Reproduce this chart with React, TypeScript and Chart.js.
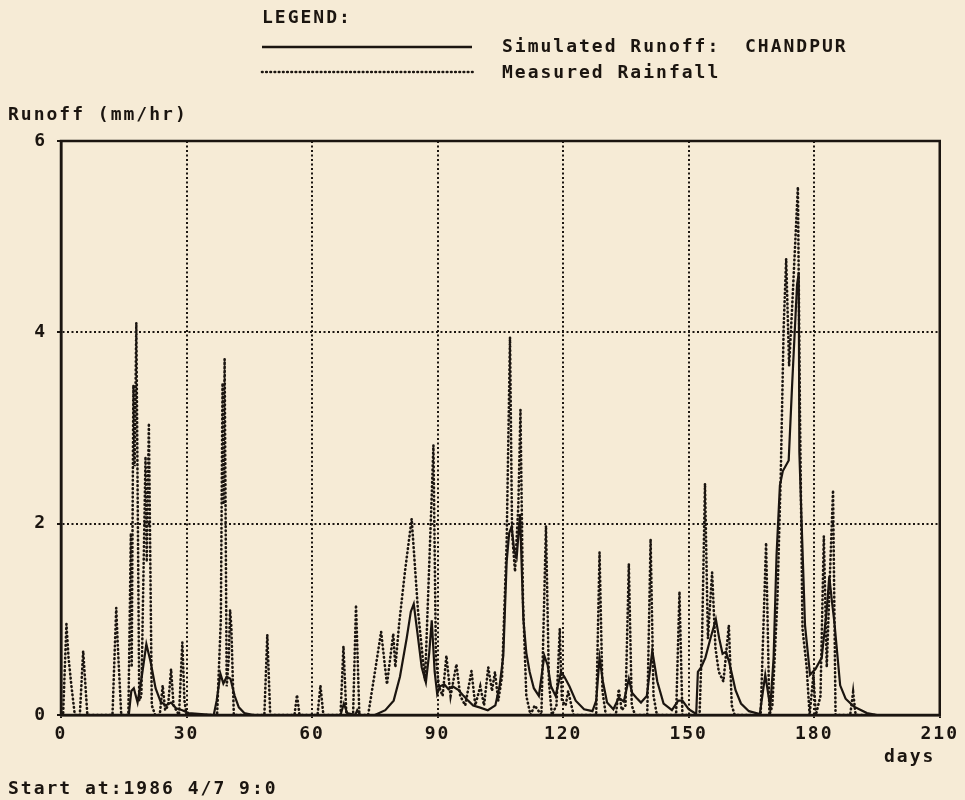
import { useEffect, useRef } from 'react';
import { Chart, registerables } from 'chart.js';

Chart.register(...registerables);

const PAPER = '#f6ebd6';
const INK = '#1b1510';
const FONT_FAMILY = '"DejaVu Sans Mono", monospace';

const xTickStep = 30;
const xMax = 210;
const yTickStep = 2;
const yMax = 6;

const legendTitle = 'LEGEND:';
const runoffLabel = 'Simulated Runoff:';
const stationLabel = 'CHANDPUR';
const rainLabel = 'Measured Rainfall';
const yAxisTitle = 'Runoff (mm/hr)';
const xAxisTitle = 'days';
const startLabel = 'Start at:1986 4/7 9:0';

// Measured rainfall: [day, value]
const rainfall: [number, number][] = [
  [0, 0], [0.5, 0], [1.3, 0.95], [1.8, 0.6], [2.5, 0.3], [3.3, 0],
  [4.5, 0], [5.3, 0.67], [5.7, 0.4], [6.3, 0],
  [12.3, 0], [13.2, 1.12], [13.6, 0.7], [14.4, 0],
  [16.1, 0], [16.7, 1.9], [16.9, 0.5], [17.3, 3.45], [17.6, 2.6], [18.0, 4.1], [18.7, 0.15], [19.2, 0.2],
  [20.2, 2.7], [20.5, 1.6], [21.0, 3.05], [21.7, 0.1], [22.5, 0],
  [23.6, 0], [24.3, 0.31], [24.9, 0.05], [25.6, 0.1], [26.3, 0.48], [26.9, 0.1], [28.2, 0], [29.0, 0.76], [29.5, 0.15], [30, 0],
  [37.3, 0], [38.2, 1.0], [38.6, 3.47], [38.85, 2.2], [39.1, 3.72], [39.6, 0.3], [40.1, 0.6], [40.4, 1.1], [40.7, 0.93], [41.3, 0],
  [48.6, 0], [49.3, 0.84], [50.0, 0],
  [55.8, 0], [56.4, 0.21], [57, 0],
  [61.3, 0], [62, 0.31], [62.7, 0],
  [66.8, 0], [67.5, 0.72], [68.2, 0],
  [69.8, 0], [70.5, 1.15], [71.3, 0],
  [73.4, 0], [75.2, 0.5], [76.5, 0.87], [77.9, 0.32], [79.4, 0.85], [79.9, 0.5], [80.8, 0.95], [82.2, 1.5],
  [83.8, 2.05], [85.3, 1.1], [87.0, 0.36], [88.6, 2.3], [89.0, 2.82], [89.6, 0.6], [90.3, 0.3], [91.2, 0.2],
  [92.1, 0.62], [93.1, 0.2], [94.5, 0.53], [95.4, 0.2], [96.6, 0.1], [98.1, 0.46], [99.0, 0.1], [100.2, 0.3],
  [101.1, 0.1], [102.1, 0.5], [103.0, 0.25], [103.7, 0.45], [104.5, 0.15], [105.4, 0.4], [106.5, 1.8],
  [107.3, 3.95], [107.8, 1.9], [108.5, 1.5], [109.3, 2.2], [109.8, 3.19], [110.4, 1.2], [111.2, 0.2], [112.2, 0],
  [113.2, 0.1], [114.8, 0], [115.9, 1.98], [116.6, 0.35], [117.3, 0], [118.4, 0.1], [119.2, 0.9], [119.7, 0.15],
  [120.6, 0.1], [121.2, 0.25], [122.5, 0],
  [127.9, 0], [128.7, 1.7], [129.4, 0.25], [130.2, 0],
  [132.6, 0], [133.3, 0.27], [134.0, 0.05], [134.9, 0.1], [135.7, 1.58], [136.4, 0.1], [137.2, 0],
  [140.1, 0], [140.9, 1.84], [141.6, 0.2], [142.4, 0],
  [147.0, 0], [147.8, 1.29], [148.5, 0],
  [152.6, 0], [153.2, 0.8], [153.9, 2.42], [154.6, 0.8], [155.6, 1.49], [156.4, 0.7], [157.2, 0.45],
  [158.3, 0.35], [159.6, 0.94], [160.3, 0.1], [161, 0],
  [167.2, 0], [168.5, 1.8], [169.3, 0],
  [170.0, 0.1], [171.2, 1.2], [172.0, 2.5], [172.7, 4.05], [173.3, 4.77], [174.0, 3.65], [174.7, 4.24],
  [175.5, 4.97], [176.1, 5.52], [176.6, 3.14], [177.2, 0.9], [178.2, 0.5], [178.9, 0], [179.8, 0.42], [180.4, 0],
  [181.5, 0.2], [182.3, 1.87], [183.0, 0.5], [183.7, 1.4], [184.5, 2.35], [185.1, 0],
  [188.6, 0], [189.3, 0.24], [189.9, 0], [195, 0],
];

// Simulated runoff: [day, value]
const runoff: [number, number][] = [
  [0, 0], [16.2, 0], [16.8, 0.25], [17.4, 0.28], [18.3, 0.13], [19.3, 0.4], [20.4, 0.74], [21.4, 0.56],
  [22.6, 0.28], [23.8, 0.14], [25, 0.1], [26.3, 0.13], [27.5, 0.07], [29, 0.05], [30.5, 0.02], [36.5, 0],
  [37.2, 0.15], [38.1, 0.43], [38.8, 0.33], [39.6, 0.4], [40.5, 0.38], [41.5, 0.2], [42.5, 0.08], [43.8, 0.02], [46, 0],
  [66.8, 0], [67.6, 0.12], [68.4, 0.02], [70.3, 0], [70.8, 0.05], [71.5, 0],
  [75, 0], [77.5, 0.05], [79.5, 0.15], [81, 0.4], [82.6, 0.8], [83.6, 1.08], [84.3, 1.16], [85.2, 0.85],
  [86.2, 0.5], [87.2, 0.34], [88.0, 0.65], [88.6, 0.99], [89.3, 0.45], [89.9, 0.22], [90.6, 0.3], [91.6, 0.32],
  [92.6, 0.27], [93.6, 0.3], [95, 0.26], [96.2, 0.2], [97.3, 0.15], [98.5, 0.1], [100, 0.08], [102, 0.05],
  [103.8, 0.1], [104.8, 0.3], [105.7, 0.62], [106.5, 1.6], [107.1, 1.9], [107.7, 1.97], [108.3, 1.72],
  [108.9, 1.65], [109.7, 2.1], [110.5, 1.0], [111.2, 0.65], [112, 0.45], [113, 0.28], [114.2, 0.2],
  [115.5, 0.62], [116.3, 0.52], [117.1, 0.3], [118.2, 0.2], [119.5, 0.45], [120.3, 0.4], [121.5, 0.3],
  [123, 0.15], [125, 0.06], [127, 0.04], [127.9, 0.15], [128.7, 0.6], [129.5, 0.35], [130.5, 0.13],
  [132, 0.06], [133.3, 0.18], [134.5, 0.14], [135.7, 0.38], [136.5, 0.23], [137.5, 0.18], [138.6, 0.13],
  [140, 0.2], [141.3, 0.67], [142.5, 0.35], [144, 0.12], [146, 0.05], [147.5, 0.15], [148.5, 0.15],
  [150, 0.06], [151.8, 0.01], [152.2, 0.45], [153, 0.5], [154, 0.6], [155.2, 0.8], [156.5, 1.0],
  [157.3, 0.8], [158.1, 0.64], [158.9, 0.66], [159.7, 0.55], [161.2, 0.26], [162.5, 0.12], [164.4, 0.04],
  [167, 0.01], [168.3, 0.42], [169.5, 0.08], [170.3, 0.6], [171, 1.67], [171.8, 2.4], [172.5, 2.55],
  [173.9, 2.66], [174.7, 3.43], [175.9, 4.5], [176.3, 4.62], [176.45, 2.75], [177, 2.0], [177.8, 0.94],
  [179, 0.42], [180.3, 0.48], [181.8, 0.6], [183, 1.1], [183.6, 1.45], [184.2, 1.2], [184.8, 0.98],
  [186.2, 0.31], [187.5, 0.17], [189.4, 0.09], [192.6, 0.02], [195, 0],
];

const FONT = `bold 18px ${FONT_FAMILY}`;
const RAIN_DASH = [0.6, 3.6];

const spacingPlugin = {
  id: 'spacing',
  beforeUpdate(chart: any) {
    chart.ctx.letterSpacing = '2px';
  },
  beforeDraw(chart: any) {
    const { ctx, width, height } = chart;
    ctx.letterSpacing = '2px';
    ctx.save();
    ctx.fillStyle = PAPER;
    ctx.fillRect(0, 0, width, height);
    ctx.restore();
  },
  afterDraw(chart: any) {
    const { ctx, chartArea: a } = chart;
    ctx.save();
    ctx.strokeStyle = INK;
    ctx.lineWidth = 2.5;
    ctx.setLineDash([]);
    ctx.strokeRect(a.left, a.top, a.right - a.left, a.bottom - a.top);

    ctx.fillStyle = INK;
    ctx.font = FONT;
    ctx.letterSpacing = '2px';
    ctx.textBaseline = 'middle';
    ctx.textAlign = 'left';
    ctx.fillText(legendTitle, 262, 18);
    ctx.fillText(runoffLabel, 502, 47);
    ctx.fillText(stationLabel, 745, 47);
    ctx.fillText(rainLabel, 502, 73);
    ctx.fillText(yAxisTitle, 8, 115);
    ctx.fillText(xAxisTitle, 884, 757);
    ctx.fillText(startLabel, 8, 789);

    ctx.beginPath();
    ctx.lineWidth = 2.5;
    ctx.moveTo(262, 47);
    ctx.lineTo(472, 47);
    ctx.stroke();

    ctx.beginPath();
    ctx.lineWidth = 2.6;
    ctx.lineCap = 'round';
    ctx.setLineDash(RAIN_DASH);
    ctx.moveTo(262, 72);
    ctx.lineTo(474, 72);
    ctx.stroke();
    ctx.restore();
  },
};

export default function App() {
  const ref = useRef<HTMLCanvasElement>(null);
  useEffect(() => {
    document.body.style.margin = '0';
    document.body.style.background = PAPER;
    const tickFont = { family: FONT_FAMILY, size: 18, weight: 'bold' as const };
    const chart = new Chart(ref.current!, {
      type: 'line',
      data: {
        datasets: [
          {
            label: runoffLabel,
            data: runoff.map(([x, y]) => ({ x, y })),
            borderColor: INK,
            borderWidth: 2.2,
            pointRadius: 0,
            tension: 0,
            fill: false,
          },
          {
            label: rainLabel,
            data: rainfall.map(([x, y]) => ({ x, y })),
            borderColor: INK,
            borderWidth: 2.6,
            borderDash: RAIN_DASH,
            borderCapStyle: 'round',
            pointRadius: 0,
            tension: 0,
            fill: false,
          },
        ],
      },
      options: {
        responsive: false,
        devicePixelRatio: 1,
        animation: false,
        events: [],
        layout: { padding: { top: 141, right: 24, left: 0, bottom: 0 } },
        plugins: { legend: { display: false }, tooltip: { enabled: false }, title: { display: false } },
        scales: {
          x: {
            type: 'linear',
            min: 0,
            max: xMax,
            ticks: { stepSize: xTickStep, color: INK, font: tickFont, padding: 6 },
            grid: { color: INK, lineWidth: 2, tickLength: 3, tickColor: INK, tickWidth: 2 },
            border: { display: true, color: INK, width: 2.5, dash: [2, 2.5] },
            afterFit(s: any) { s.height = 85; },
          },
          y: {
            type: 'linear',
            min: 0,
            max: yMax,
            ticks: { stepSize: yTickStep, color: INK, font: tickFont, padding: 10 },
            grid: { color: INK, lineWidth: 2, tickLength: 4, tickColor: INK, tickWidth: 2 },
            border: { display: true, color: INK, width: 2.5, dash: [2, 2.5] },
            afterFit(s: any) { s.width = 61; },
          },
        },
      },
      plugins: [spacingPlugin],
    } as any);
    return () => chart.destroy();
  }, []);
  return (
    <div style={{ width: 965, height: 800 }}>
      <canvas ref={ref} width={965} height={800} style={{ display: 'block', width: 965, height: 800 }} />
    </div>
  );
}
